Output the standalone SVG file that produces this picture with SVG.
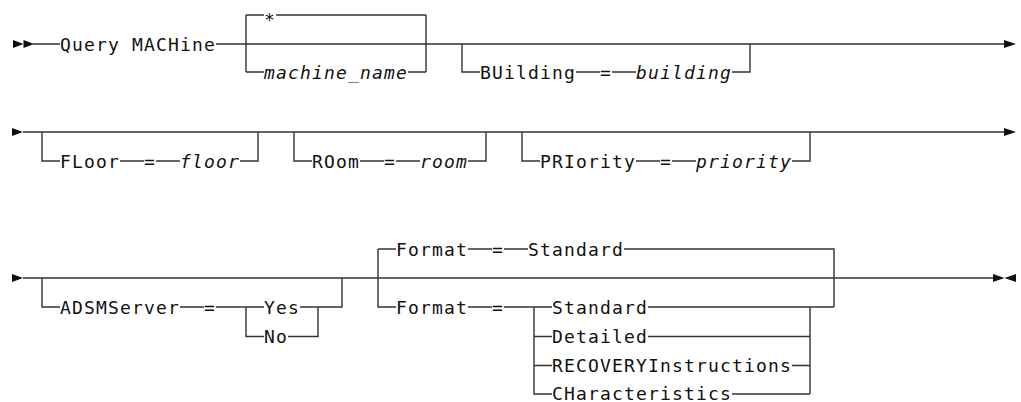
<svg xmlns="http://www.w3.org/2000/svg" width="1021" height="402" viewBox="0 0 1021 402">
<style>
.t{font-family:"DejaVu Sans Mono","Liberation Mono",monospace;font-size:18px;letter-spacing:1.16px;fill:#111}
.i{font-style:italic}
.c{fill:none;stroke:#333;stroke-width:1.4}
.a{fill:#111;stroke:none}
</style>
<rect width="1021" height="402" fill="#fff"/>
<g id="connectors">
<g id="arrows">
<polygon class="a" points="13,40 23.5,44 13,48"/>
<polygon class="a" points="23.5,40 34,44 23.5,48"/>
<polygon class="a" points="1004,40 1016,44 1004,48"/>
<polygon class="a" points="12,128 23,132 12,136"/>
<polygon class="a" points="1004,128 1016,132 1004,136"/>
<polygon class="a" points="12,274 23,278 12,282"/>
<polygon class="a" points="993,274 1004.5,278 993,282"/>
<polygon class="a" points="1016,274 1004.5,278 1016,282"/>
</g>
<path class="c" d="M33 44H60M216 44H1004"/>
<path class="c" d="M246 15V72M426 15V72M246 15H264M276 15H426M246 72H264M408 72H426"/>
<path class="c" d="M462 44V72H480M576 72H600M612 72H636M732 72H750V44"/>
<path class="c" d="M23 132H1004"/>
<path class="c" d="M42 132V161H60M120 161H144M156 161H180M240 161H258V132"/>
<path class="c" d="M294 132V161H312M360 161H384M396 161H420M468 161H486V132"/>
<path class="c" d="M522 132V161H540M636 161H660M672 161H696M792 161H810V132"/>
<path class="c" d="M23 278H993"/>
<path class="c" d="M42 278V307H60M180 307H204M216 307H264M246 307V336.5H264M300 307H342V278M288 336.5H318V307"/>
<path class="c" d="M378 249V307H396M378 249H396M468 249H492M504 249H528M624 249H834V307M468 307H492M504 307H552M648 307H834"/>
<path class="c" d="M534 307V394H552M534 336.5H552M534 365.5H552M648 336.5H810M792 365.5H810M732 394H810M810 307V394"/>
</g>
<g id="n-query"><text class="t" x="60" y="50.5">Query MACHine</text></g>
<g id="n-star"><text class="t" x="264" y="25.5">*</text></g>
<g id="n-machine-name"><text class="t i" x="264" y="78.5">machine_name</text></g>
<g id="n-building"><text class="t" x="480" y="78.5">BUilding</text><text class="t" x="600" y="78.5">=</text><text class="t i" x="636" y="78.5">building</text></g>
<g id="n-floor"><text class="t" x="60" y="167.5">FLoor</text><text class="t" x="144" y="167.5">=</text><text class="t i" x="180" y="167.5">floor</text></g>
<g id="n-room"><text class="t" x="312" y="167.5">ROom</text><text class="t" x="384" y="167.5">=</text><text class="t i" x="420" y="167.5">room</text></g>
<g id="n-priority"><text class="t" x="540" y="167.5">PRIority</text><text class="t" x="660" y="167.5">=</text><text class="t i" x="696" y="167.5">priority</text></g>
<g id="n-adsmserver"><text class="t" x="60" y="313.5">ADSMServer</text><text class="t" x="204" y="313.5">=</text></g>
<g id="n-yes"><text class="t" x="264" y="313.5">Yes</text></g>
<g id="n-no"><text class="t" x="264" y="343">No</text></g>
<g id="n-format-default"><text class="t" x="396" y="255.5">Format</text><text class="t" x="492" y="255.5">=</text><text class="t" x="528" y="255.5">Standard</text></g>
<g id="n-format"><text class="t" x="396" y="313.5">Format</text><text class="t" x="492" y="313.5">=</text></g>
<g id="n-standard"><text class="t" x="552" y="313.5">Standard</text></g>
<g id="n-detailed"><text class="t" x="552" y="343">Detailed</text></g>
<g id="n-recovery"><text class="t" x="552" y="372">RECOVERYInstructions</text></g>
<g id="n-characteristics"><text class="t" x="552" y="400">CHaracteristics</text></g>
</svg>
